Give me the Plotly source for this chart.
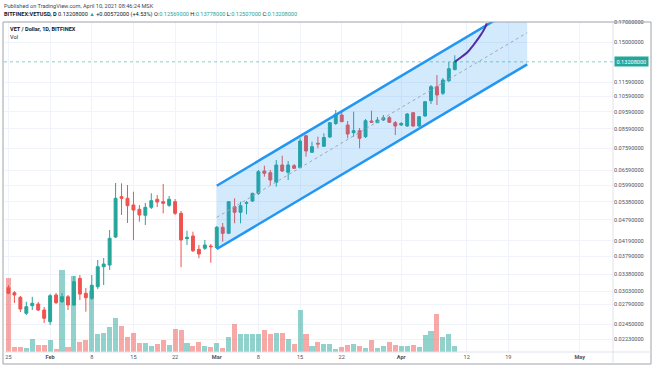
import math
import pandas as pd
import plotly.graph_objects as go

# ---------------- data ----------------
dates = pd.date_range("2021-01-25", "2021-04-10", freq="D")

open_ = [0.03102, 0.03004, 0.02917, 0.02633, 0.02765, 0.02795, 0.02689, 0.02495, 0.02960, 0.02836,
         0.02928, 0.02777, 0.03295, 0.02993, 0.02899, 0.03122, 0.03550, 0.03589, 0.04295, 0.05562,
         0.05505, 0.05274, 0.05130, 0.04936, 0.05196, 0.05470, 0.05386, 0.05263, 0.05386, 0.05000,
         0.04249, 0.04323, 0.03969, 0.03994, 0.04054, 0.04010, 0.04571, 0.04398, 0.05216, 0.05032,
         0.05331, 0.05410, 0.05684, 0.06558, 0.06487, 0.06099, 0.06816, 0.06503, 0.06785, 0.06699,
         0.08224, 0.07394, 0.07833, 0.07684, 0.08156, 0.08894, 0.09392, 0.08809, 0.08384, 0.08493,
         0.08172, 0.09038, 0.08940, 0.09096, 0.09231, 0.08940, 0.08809, 0.08753, 0.09532, 0.08753,
         0.09333, 0.10294, 0.11262, 0.10795, 0.11704, 0.12569]
high = [0.03157, 0.03037, 0.02942, 0.02836, 0.02928, 0.02831, 0.02742, 0.02980, 0.02999, 0.02999,
        0.02960, 0.03344, 0.03366, 0.03097, 0.03366, 0.03706, 0.03754, 0.04493, 0.06072, 0.06060,
        0.05995, 0.05743, 0.05274, 0.05342, 0.05684, 0.05623, 0.06033, 0.05587, 0.05480, 0.05074,
        0.04472, 0.04444, 0.04080, 0.04213, 0.04106, 0.04609, 0.04699, 0.05410, 0.05505, 0.05386,
        0.05410, 0.05700, 0.06601, 0.06785, 0.06601, 0.07037, 0.07234, 0.06992, 0.06860, 0.08089,
        0.08261, 0.07914, 0.08172, 0.08352, 0.08980, 0.09698, 0.09593, 0.09038, 0.09593, 0.08641,
        0.09154, 0.09655, 0.09273, 0.09392, 0.09333, 0.09038, 0.08980, 0.09514, 0.09575, 0.09333,
        0.10274, 0.11385, 0.12139, 0.11908, 0.13194, 0.13778]
low = [0.02980, 0.02813, 0.02655, 0.02604, 0.02689, 0.02672, 0.02474, 0.02443, 0.02795, 0.02813,
       0.02689, 0.02759, 0.02867, 0.02660, 0.02867, 0.03077, 0.03157, 0.03476, 0.04268, 0.04946,
       0.04699, 0.04213, 0.04738, 0.04639, 0.05140, 0.05206, 0.05000, 0.05206, 0.04946, 0.03537,
       0.04080, 0.03901, 0.03747, 0.03951, 0.03643, 0.03976, 0.04168, 0.04378, 0.04690, 0.04690,
       0.04968, 0.05376, 0.05623, 0.06323, 0.05995, 0.05930, 0.06516, 0.06190, 0.06643, 0.06686,
       0.07188, 0.07361, 0.07586, 0.07650, 0.08104, 0.08809, 0.08980, 0.08089, 0.08172, 0.07586,
       0.08104, 0.08923, 0.08923, 0.09038, 0.08923, 0.08261, 0.08753, 0.08697, 0.08697, 0.08697,
       0.09273, 0.10079, 0.10015, 0.10678, 0.11606, 0.12507]
close = [0.02993, 0.02960, 0.02707, 0.02747, 0.02808, 0.02689, 0.02550, 0.02947, 0.02818, 0.02928,
         0.02777, 0.03224, 0.02980, 0.02910, 0.03151, 0.03550, 0.03612, 0.04260, 0.05505, 0.05505,
         0.05250, 0.05107, 0.04946, 0.05196, 0.05421, 0.05376, 0.05331, 0.05470, 0.05000, 0.04213,
         0.04287, 0.03933, 0.03851, 0.04080, 0.04036, 0.04571, 0.04398, 0.05386, 0.05032, 0.05250,
         0.05352, 0.05684, 0.06529, 0.06462, 0.06190, 0.06816, 0.06558, 0.06816, 0.06673, 0.07949,
         0.07456, 0.07665, 0.07798, 0.08130, 0.08940, 0.09453, 0.08998, 0.08315, 0.08493, 0.08089,
         0.09056, 0.08963, 0.09096, 0.09231, 0.08963, 0.08753, 0.08894, 0.09453, 0.08753, 0.09291,
         0.10229, 0.11262, 0.10678, 0.11756, 0.12636, 0.13208]
volume_m = [22.3, 1.5, 1.5, 1.3, 4.0, 2.0, 2.1, 3.6, 1.0, 24.6,
            1.5, 22.8, 3.0, 3.5, 18.3, 5.3, 5.8, 7.5, 10.3, 7.8,
            4.5, 5.7, 2.7, 2.7, 1.7, 2.3, 3.6, 2.1, 6.8, 6.5,
            2.7, 1.7, 3.0, 1.7, 1.4, 2.7, 1.1, 4.5, 8.3, 5.5,
            5.5, 5.5, 5.3, 6.5, 5.3, 5.8, 5.6, 4.0, 2.5, 12.5,
            5.3, 1.8, 3.1, 2.5, 2.3, 1.0, 1.6, 2.1, 2.5, 1.7,
            1.1, 3.6, 1.1, 1.7, 3.1, 2.1, 1.9, 1.9, 2.1, 1.5,
            5.0, 6.3, 11.5, 4.6, 5.5, 1.8]

# parallel channel drawing (start / end anchor points)
channel_dates = ["2021-03-01 00:00", "2021-04-22 04:00"]
channel_lower = [0.03976, 0.13001]
channel_upper = [0.05968, 0.19512]
channel_mid = [0.04872, 0.15927]

# projected path (purple)
proj_dates = ["2021-04-10 00:00", "2021-04-11 04:00", "2021-04-12 03:00", "2021-04-13 03:00",
              "2021-04-13 23:00", "2021-04-14 13:00", "2021-04-15 02:30", "2021-04-15 09:00"]
proj_prices = [0.1321, 0.1365, 0.1404, 0.1471, 0.1536, 0.1586, 0.1648, 0.1690]

price_ticks = [0.0223, 0.0245, 0.0279, 0.0303, 0.0338, 0.0379, 0.0419, 0.0479, 0.0538, 0.0599,
               0.0659, 0.0759, 0.0859, 0.0959, 0.1059, 0.1159, 0.15, 0.17]
date_ticks = ["2021-01-25", "2021-02-01", "2021-02-08", "2021-02-15", "2021-02-22", "2021-03-01",
              "2021-03-08", "2021-03-15", "2021-03-22", "2021-04-01", "2021-04-12", "2021-04-19",
              "2021-05-01"]
date_labels = ["25", "<b>Feb</b>", "8", "15", "22", "<b>Mar</b>", "8", "15", "22", "<b>Apr</b>",
               "12", "19", "<b>May</b>"]

x_range = ["2021-01-24 06:00", "2021-05-06 14:00"]
price_range = [0.020541, 0.17054]

# ---------------- styling ----------------
UP = "#26a69a"
DOWN = "#ef5350"
UP_VOL = "rgba(38,166,154,0.5)"
DOWN_VOL = "rgba(239,83,80,0.5)"
BLUE = "#2196f3"
GRID = "#f0f3fa"
TXT = "#50535e"
FONT = "Roboto"

vol_colors = [UP_VOL if c >= o else DOWN_VOL for o, c in zip(open_, close)]

fig = go.Figure()

# volume (base axis, behind everything)
fig.add_trace(go.Bar(
    x=dates, y=volume_m, marker=dict(color=vol_colors, line=dict(width=0)),
    width=0.85 * 86400000, yaxis="y", xaxis="x", hoverinfo="skip"))

# channel fill
fig.add_trace(go.Scatter(
    x=[channel_dates[0], channel_dates[1], channel_dates[1], channel_dates[0], channel_dates[0]],
    y=[channel_lower[0], channel_lower[1], channel_upper[1], channel_upper[0], channel_lower[0]],
    fill="toself", fillcolor="rgba(33,150,243,0.2)", line=dict(width=0), mode="lines",
    yaxis="y2", hoverinfo="skip"))

# last price line
fig.add_trace(go.Scatter(
    x=x_range, y=[close[-1], close[-1]], mode="lines",
    line=dict(color="rgba(38,166,154,0.55)", width=1, dash="dot"), yaxis="y2", hoverinfo="skip"))

# candles
fig.add_trace(go.Candlestick(
    x=dates, open=open_, high=high, low=low, close=close, yaxis="y2",
    increasing=dict(line=dict(color=UP, width=1), fillcolor=UP),
    decreasing=dict(line=dict(color=DOWN, width=1), fillcolor=DOWN),
    whiskerwidth=0))

# channel lines
fig.add_trace(go.Scatter(x=channel_dates, y=channel_mid, mode="lines",
                         line=dict(color="#9fa8b8", width=1, dash="dot"), yaxis="y2", hoverinfo="skip"))
fig.add_trace(go.Scatter(x=channel_dates, y=channel_upper, mode="lines",
                         line=dict(color=BLUE, width=2.5), yaxis="y2", hoverinfo="skip"))
fig.add_trace(go.Scatter(x=channel_dates, y=channel_lower, mode="lines",
                         line=dict(color=BLUE, width=2.5), yaxis="y2", hoverinfo="skip"))

# projection path
fig.add_trace(go.Scatter(x=proj_dates, y=proj_prices, mode="lines",
                         line=dict(color="#512da8", width=2, shape="spline"), yaxis="y2",
                         hoverinfo="skip"))

# ---------------- layout ----------------
def pxx(px):  # paper x from pixel
    return (px - 4) / 609.0

def pxy(py):  # paper y from pixel
    return (352 - py) / 330.0

chg = close[-1] - close[-2]
pct = chg / close[-2] * 100
teal = lambda s: f"<span style='color:{UP}'>{s}</span>"
header2 = (f"<b>BITFINEX:VETUSD, D</b> {close[-1]:.8f} {teal('▲')} +{chg:.8f} (+{pct:.2f}%) "
           f"O:{teal(f'{open_[-1]:.8f}')} H:{teal(f'{high[-1]:.8f}')} "
           f"L:{teal(f'{low[-1]:.8f}')} C:{teal(f'{close[-1]:.8f}')}")

annotations = [
    dict(text="Published on TradingView.com, April 10, 2021 08:46:24 MSK", x=pxx(1.5), y=pxy(5.7),
         xref="paper", yref="paper", xanchor="left", yanchor="middle", showarrow=False,
         font=dict(family=FONT, size=5.6, color="#434651")),
    dict(text=header2, x=pxx(1.5), y=pxy(14.3), xref="paper", yref="paper", xanchor="left",
         yanchor="middle", showarrow=False, font=dict(family=FONT, size=5.6, color="#131722")),
    dict(text="<b>VET / Dollar, 1D, BITFINEX</b>", x=pxx(7.5), y=pxy(29.3), xref="paper", yref="paper",
         xanchor="left", yanchor="middle", showarrow=False, font=dict(family=FONT, size=5.6, color="#131722")),
    dict(text="Vol", x=pxx(7.5), y=pxy(36.7), xref="paper", yref="paper", xanchor="left",
         yanchor="middle", showarrow=False, font=dict(family=FONT, size=5.6, color="#131722")),
    dict(text=f"{close[-1]:.8f}", x=1, y=math.log10(close[-1]), xref="paper", yref="y2",
         xanchor="left", yanchor="middle", showarrow=False, bgcolor=UP, borderpad=1.5,
         font=dict(family=FONT, size=5.6, color="white"), xshift=1),
]

shapes = [
    # outer frame
    dict(type="rect", xref="paper", yref="paper", x0=pxx(3), x1=pxx(651), y0=pxy(364), y1=pxy(22),
         line=dict(color="#9fa2ab", width=1), fillcolor="rgba(0,0,0,0)", layer="above"),
    # price-axis separator
    dict(type="line", xref="paper", yref="paper", x0=1, x1=1, y0=pxy(364), y1=1,
         line=dict(color="#e0e3eb", width=1), layer="above"),
    # time-axis separator
    dict(type="line", xref="paper", yref="paper", x0=pxx(3), x1=pxx(651), y0=0, y1=0,
         line=dict(color="#e0e3eb", width=1), layer="above"),
]

fig.update_layout(
    width=654, height=366,
    margin=dict(l=4, r=41, t=22, b=14, autoexpand=False),
    paper_bgcolor="white", plot_bgcolor="white",
    showlegend=False,
    bargap=0,
    xaxis=dict(type="date", range=x_range, tickvals=date_ticks, ticktext=date_labels,
               showgrid=True, gridcolor=GRID, gridwidth=1, ticks="", zeroline=False,
               tickfont=dict(family=FONT, size=5.6, color=TXT), rangeslider=dict(visible=False),
               showline=False, fixedrange=True, automargin=False),
    yaxis=dict(range=[0, 99], showgrid=False, showticklabels=False, zeroline=False, ticks="",
               automargin=False),
    yaxis2=dict(type="log", range=[math.log10(price_range[0]), math.log10(price_range[1])],
                overlaying="y", side="right", anchor="x", tickvals=price_ticks,
                ticktext=[f"{v:.8f}" for v in price_ticks], showgrid=True, gridcolor=GRID,
                gridwidth=1, ticks="", zeroline=False, showline=False, automargin=False,
                tickfont=dict(family=FONT, size=5.6, color=TXT)),
    annotations=annotations,
    shapes=shapes,
)

fig.write_html(
    "out.html",
    config={"displayModeBar": False},
    post_script="document.body.style.margin='0';document.body.style.overflow='hidden';",
)
